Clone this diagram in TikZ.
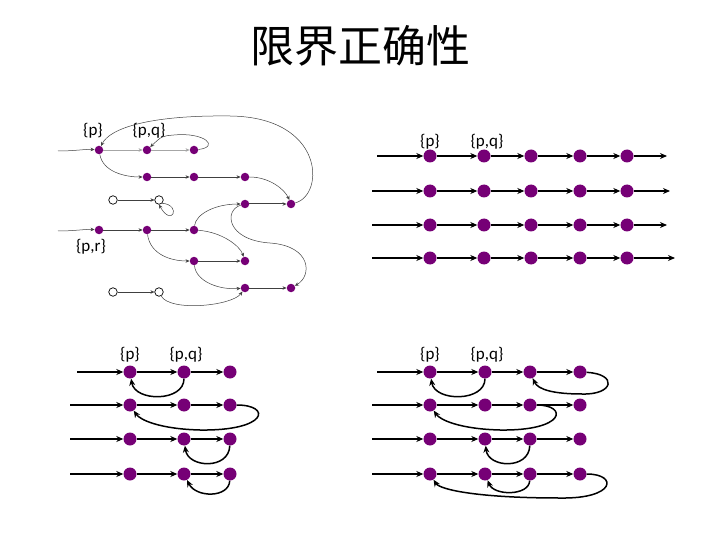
\documentclass[tikz,border=0pt]{standalone}
\usepackage{fontspec}
\setmainfont{Carlito}
\newfontfamily\cjk{Noto Sans CJK SC}
\usetikzlibrary{arrows.meta}
\definecolor{dotpurple}{RGB}{118,0,118}
\tikzset{
  dot/.style={circle,fill=dotpurple,inner sep=0pt,minimum size=13pt},
  sdot/.style={circle,fill=dotpurple,inner sep=0pt,minimum size=8.5pt},
  hol/.style={circle,draw=black,fill=white,line width=0.7pt,inner sep=0pt,minimum size=8.5pt},
  edge/.style={line width=1.5pt,-{Stealth[length=7pt,width=6pt]}},
  thin/.style={line width=0.5pt,draw=black!75,-{Stealth[length=4pt,width=3.5pt]}},
  faint/.style={line width=0.4pt,draw=black!35,-{Stealth[length=4pt,width=3.5pt]}},
  lab/.style={font=\fontsize{17}{20}\selectfont,inner sep=0pt},
  slab/.style={font=\fontsize{17}{20}\selectfont,inner sep=0pt},
}
\begin{document}
\begin{tikzpicture}[x=1pt,y=-1pt]
\useasboundingbox (0,0) rectangle (720,540);
\node[font=\cjk\fontsize{44}{48}\selectfont] (title) at (360,46) {限界正确性};

% ---------- top-left ----------
\coordinate (sa) at (58,151);
\coordinate (sd) at (58,231);
\node[sdot] (a1) at (99,150) {};
\node[sdot] (a2) at (147,150) {};
\node[sdot] (a3) at (194,150) {};
\node[sdot] (b1) at (147,177) {};
\node[sdot] (b2) at (194,177) {};
\node[sdot] (b3) at (245,177) {};
\node[hol] (h1) at (113,200) {};
\node[hol] (h2) at (159,200) {};
\node[sdot] (c1) at (245,204) {};
\node[sdot] (c2) at (291,204) {};
\node[sdot] (d1) at (99,230) {};
\node[sdot] (d2) at (147,230) {};
\node[sdot] (d3) at (194,230) {};
\node[sdot] (e1) at (194,261) {};
\node[sdot] (e2) at (245,261) {};
\node[sdot] (f1) at (245,288) {};
\node[sdot] (f2) at (291,288) {};
\node[hol] (h3) at (113,292) {};
\node[hol] (h4) at (159,292) {};
\node[slab] (lp1) at (93,131) {\{p\}};
\node[slab] (lpq1) at (149,131) {\{p,q\}};
\node[slab] (lpr) at (91,247) {\{p,r\}};

\draw[thin] (sa) .. controls (75,151) and (85,149) .. (a1);
\draw[faint] (a1) -- (a2);
\draw[faint] (a2) -- (a3);
\draw[thin] (a3) .. controls (220,147) and (205,132) .. (174,135) .. controls (162,136) .. (a2);
\draw[thin] (a1) .. controls (103,172) and (125,177) .. (b1);
\draw[thin] (b1) -- (b2);
\draw[thin] (b2) -- (b3);
\draw[thin] (b3) .. controls (270,177) and (285,190) .. (c2);
\draw[thin] (c2) .. controls (325,195) and (325,117) .. (230,116) .. controls (150,115) and (110,128) .. (a1);
\draw[thin,line width=1pt] (c1) -- (c2);
\draw[thin] (h1) -- (h2);
\draw[thin] (h2.south east) .. controls (182,205) and (172,228) .. (h2.south);
\draw[thin] (sd) .. controls (75,231) and (85,229) .. (d1);
\draw[thin] (d1) -- (d2);
\draw[thin] (d2) -- (d3);
\draw[thin] (d3) .. controls (196,214) and (215,204) .. (c1);
\draw[thin] (d2) .. controls (150,254) and (170,261) .. (e1);
\draw[thin] (d3) .. controls (222,232) and (240,246) .. (e2);
\draw[thin] (e1) -- (e2);
\draw[thin] (e1) .. controls (196,282) and (220,290) .. (f1);
\draw[thin] (f1) -- (f2);
\draw[thin,line width=1pt] (h3) -- (h4);
\draw[thin] (h4) .. controls (170,312) and (232,306) .. (f1);
\draw[thin] (c1) .. controls (224,210) and (226,240) .. (270,243) .. controls (312,246) and (312,276) .. (f2);

% ---------- top-right ----------
\node[lab] (lp2) at (430,142) {\{p\}};
\node[lab] (lpq2) at (487,142) {\{p,q\}};
\foreach \r/\y/\s/\e in {1/156/377/667, 2/191/372/670, 3/225/372/667, 4/258/372/675}{
  \coordinate (TRs\r) at (\s,\y);
  \coordinate (TRe\r) at (\e,\y);
  \foreach \c/\x in {1/430,2/484,3/531,4/580,5/627}
    \node[dot] (TR\r\c) at (\x,\y) {};
  \draw[edge] (TRs\r) -- (TR\r1);
  \foreach \a/\b in {1/2,2/3,3/4,4/5}
    \draw[edge] (TR\r\a) -- (TR\r\b);
  \draw[edge] (TR\r5) -- (TRe\r);
}

% ---------- bottom-left ----------
\node[lab] (lp3) at (130,355) {\{p\}};
\node[lab] (lpq3) at (186,355) {\{p,q\}};
\foreach \r/\y/\s in {1/372/77, 2/405/70, 3/439/70, 4/474/70}{
  \coordinate (BLs\r) at (\s,\y);
  \foreach \c/\x in {1/130,2/184,3/230}
    \node[dot] (BL\r\c) at (\x,\y) {};
  \draw[edge] (BLs\r) -- (BL\r1);
  \foreach \a/\b in {1/2,2/3}
    \draw[edge] (BL\r\a) -- (BL\r\b);
}
\draw[edge] (BL12) .. controls (184,402) and (135,402) .. (BL11);
\draw[edge] (BL23) .. controls (272,405) and (268,431) .. (200,430) .. controls (160,429) and (140,420) .. (BL21);
\draw[edge] (BL33) .. controls (229,470) and (188,468) .. (BL32);
\draw[edge] (BL43) .. controls (229,498) and (196,498) .. (BL42);

% ---------- bottom-right ----------
\node[lab] (lp4) at (430,355) {\{p\}};
\node[lab] (lpq4) at (487,355) {\{p,q\}};
\foreach \r/\y/\s in {1/372/377, 2/405/372, 3/439/372, 4/474/372}{
  \coordinate (BRs\r) at (\s,\y);
  \foreach \c/\x in {1/430,2/485,3/530,4/580}
    \node[dot] (BR\r\c) at (\x,\y) {};
  \draw[edge] (BRs\r) -- (BR\r1);
  \foreach \a/\b in {1/2,2/3,3/4}
    \draw[edge] (BR\r\a) -- (BR\r\b);
}
\draw[edge] (BR12) .. controls (485,402) and (435,402) .. (BR11);
\draw[edge] (BR14) .. controls (618,374) and (614,395) .. (582,394) .. controls (555,394) and (538,390) .. (BR13);
\draw[edge] (BR23) .. controls (568,405) and (566,431) .. (500,430) .. controls (460,429) and (440,420) .. (BR21);
\draw[edge] (BR33) .. controls (529,470) and (488,468) .. (BR32);
\draw[edge] (BR43) .. controls (529,496) and (494,496) .. (BR42);
\draw[edge] (BR44) .. controls (618,474) and (616,499) .. (560,498) .. controls (480,498) and (440,490) .. (BR41);
\end{tikzpicture}
\end{document}
